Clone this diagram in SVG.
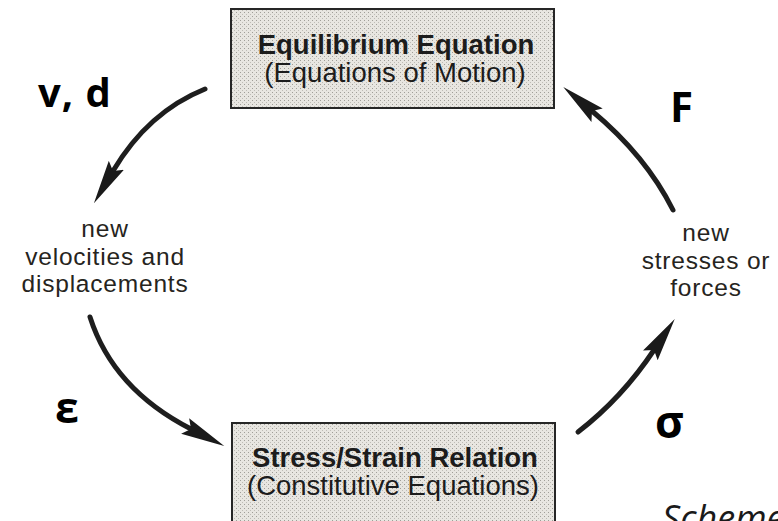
<svg xmlns="http://www.w3.org/2000/svg" width="778" height="521" viewBox="0 0 778 521">
  <style>
    .box { fill: url(#stipple); stroke: #262626; stroke-width: 2; }
    .bt { font-family: "Liberation Sans", Arial, sans-serif; font-size: 27.5px; font-weight: bold; fill: #1c1c1c; text-anchor: middle; }
    .rt { font-family: "Liberation Sans", Arial, sans-serif; font-size: 27.5px; fill: #1c1c1c; text-anchor: middle; }
    .lab { font-family: "Liberation Sans", Arial, sans-serif; font-size: 24.5px; letter-spacing: 0.8px; fill: #262420; text-anchor: middle; }
    .sym { font-family: "Open Sans", "DejaVu Sans", sans-serif; font-weight: bold; fill: #000; }
    .arc { fill: none; stroke: #1e1e1e; stroke-width: 5; stroke-linecap: round; marker-end: url(#head); }
    .cap { font-family: "Open Sans", "DejaVu Sans", sans-serif; font-style: italic; font-size: 36px; fill: #1a1a1a; }
  </style>
  <defs>
    <pattern id="stipple" width="4" height="4" patternUnits="userSpaceOnUse">
      <rect width="4" height="4" fill="#e8e6e1"/>
      <rect x="0" y="0" width="1" height="1" fill="#a09e98"/>
      <rect x="2" y="2" width="1" height="1" fill="#bebcb6"/>
    </pattern>
    <marker id="head" markerUnits="userSpaceOnUse" markerWidth="44" markerHeight="20" viewBox="0 0 40 16" refX="6" refY="8" orient="auto">
      <path d="M0,0 L40,8 L0,16 L6,8 Z" fill="#1a1a1a"/>
    </marker>
  </defs>
  <rect width="778" height="521" fill="#ffffff"/>

  <g id="equilibrium">
    <rect class="box" x="231" y="9" width="323" height="99"/>
    <text class="bt" x="396" y="54">Equilibrium Equation</text>
    <text class="rt" x="395" y="82">(Equations of Motion)</text>
  </g>

  <g id="stress-strain">
    <rect class="box" x="232" y="423" width="323" height="110"/>
    <text class="bt" x="395" y="467">Stress/Strain Relation</text>
    <text class="rt" x="393" y="495">(Constitutive Equations)</text>
  </g>

  <g id="velocities">
    <text class="lab"><tspan x="105" y="237">new</tspan><tspan x="105" y="264.5">velocities and</tspan><tspan x="105" y="292">displacements</tspan></text>
  </g>

  <g id="stresses">
    <text class="lab"><tspan x="706" y="241">new</tspan><tspan x="706" y="268.5">stresses or</tspan><tspan x="706" y="296">forces</tspan></text>
  </g>

  <g id="connectors">
    <path class="arc" d="M205,89 Q148,112 113,171"/>
    <path class="arc" d="M90,317 Q113,389 191,429"/>
    <path class="arc" d="M578,432 Q622,398 654,350"/>
    <path class="arc" d="M673,210 Q646,156 592,111"/>
  </g>

  <g id="symbols">
    <text class="sym" x="38" y="107" font-size="40" letter-spacing="1">v, d</text>
    <text class="sym" x="670" y="122" font-size="42">F</text>
    <text class="sym" x="55" y="423" font-size="43">ε</text>
    <text class="sym" x="655" y="438" font-size="44">σ</text>
  </g>

  <text class="cap" x="662" y="531">Scheme</text>
</svg>
